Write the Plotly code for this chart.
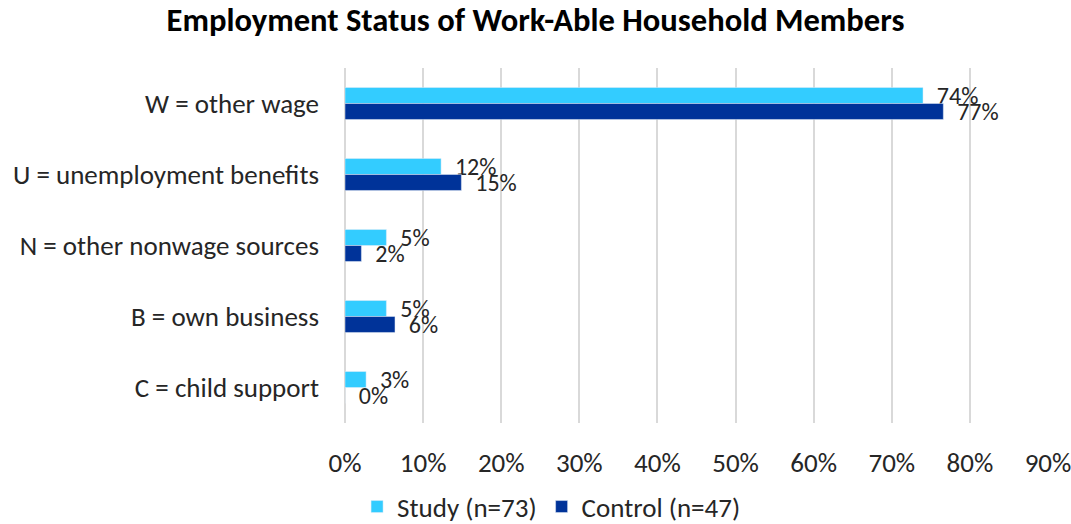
import plotly.graph_objects as go

categories = ["W = other wage", "U = unemployment benefits", "N = other nonwage sources",
              "B = own business", "C = child support"]
study = [74.0, 12.3, 5.3, 5.3, 2.7]
control = [76.6, 14.9, 2.1, 6.4, 0.0]
series_names = ["Study (n=73)", "Control (n=47)"]
tick_vals = [0, 10, 20, 30, 40, 50, 60, 70, 80, 90]
tick_text = [f"{v}%" for v in tick_vals]

FONT = "Carlito, Lato"
TXT = "#262626"
SZ = 27
fig = go.Figure()
for name, vals, color in [(series_names[0], study, "#33CCFF"), (series_names[1], control, "#003399")]:
    fig.add_trace(go.Bar(
        y=categories, x=vals, name=name, orientation="h",
        marker=dict(color=color),
        texttemplate="  %{x:.0f}%", textposition="outside",
        constraintext="none", cliponaxis=False,
        textfont=dict(family=FONT, size=24, color=TXT),
    ))

fig.update_layout(
    width=1071, height=524,
    barmode="group", bargap=0.55, bargroupgap=0,
    plot_bgcolor="white", paper_bgcolor="white",
    margin=dict(l=345, r=23, t=68, b=101),
    title=dict(text="<b>Employment Status of Work-Able Household Members</b>",
               x=0.5, xanchor="center", y=0.962, yanchor="middle",
               font=dict(family=FONT, size=32.6, color="black")),
    font=dict(family=FONT, size=SZ, color=TXT),
    legend=dict(orientation="h", x=0.515, xanchor="center", xref="container",
                y=1 - 507 / 524, yanchor="middle", yref="container",
                font=dict(family=FONT, size=SZ, color=TXT), traceorder="normal"),
    showlegend=True,
)
fig.update_xaxes(range=[0, 90], tickvals=tick_vals, ticktext=tick_text, automargin=False,
                 ticklabeloverflow="allow",
                 showgrid=True, gridcolor="#d9d9d9", gridwidth=2,
                 zeroline=True, zerolinecolor="#d9d9d9", zerolinewidth=2,
                 ticklabelstandoff=21, tickfont=dict(family=FONT, size=SZ, color=TXT))
fig.update_yaxes(categoryorder="array", categoryarray=categories, autorange="reversed",
                 showgrid=False, ticklabelstandoff=25, automargin=False,
                 tickfont=dict(family=FONT, size=SZ, color=TXT))

fig.write_html("out.html")
